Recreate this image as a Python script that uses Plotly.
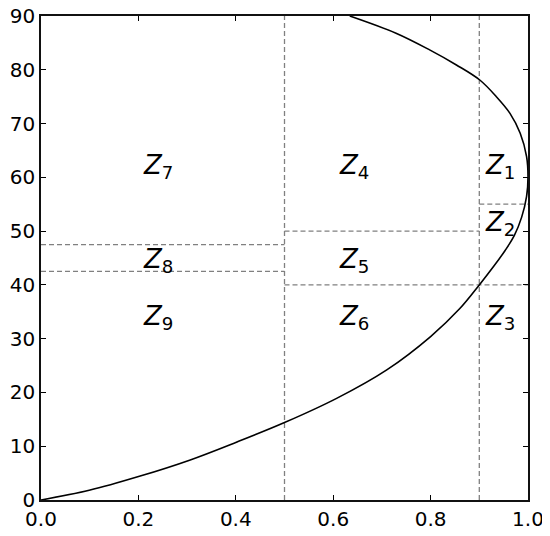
import plotly.graph_objects as go

# Curve points
curve_x = [0.0, 0.099, 0.202, 0.305, 0.40, 0.5, 0.607, 0.71, 0.8, 0.86, 0.9, 0.93, 0.953,
           0.972, 0.987, 0.997, 1.0, 0.997, 0.984, 0.963, 0.935, 0.901, 0.853, 0.798, 0.729, 0.634]
curve_y = [0.0, 1.8, 4.4, 7.4, 10.7, 14.4, 18.9, 24.2, 30.4, 35.6, 40.0, 43.5, 46.4,
           49.2, 52.6, 56.4, 60.1, 63.9, 68.2, 71.9, 75.0, 78.1, 80.9, 83.7, 86.8, 90.0]

# Dashed partition segments: (x0, x1, y0, y1)
seg_x0 = [0.5, 0.9, 0.0, 0.0, 0.5, 0.5, 0.9]
seg_x1 = [0.5, 0.9, 0.5, 0.5, 0.9, 1.0, 1.0]
seg_y0 = [0, 0, 47.5, 42.5, 50, 40, 55]
seg_y1 = [90, 90, 47.5, 42.5, 50, 40, 55]

# Region labels
label_idx = [1, 2, 3, 4, 5, 6, 7, 8, 9]
label_x = [0.907, 0.907, 0.907, 0.607, 0.607, 0.607, 0.206, 0.206, 0.206]
label_y = [62.0, 51.5, 34.0, 62.0, 44.6, 34.0, 62.0, 44.6, 34.0]

x_ticks = [0.0, 0.2, 0.4, 0.6, 0.8, 1.0]
x_tick_text = ["0.0", "0.2", "0.4", "0.6", "0.8", "1.0"]
y_ticks = [0, 10, 20, 30, 40, 50, 60, 70, 80, 90]

fig = go.Figure()

for x0, x1, y0, y1 in zip(seg_x0, seg_x1, seg_y0, seg_y1):
    fig.add_trace(go.Scatter(x=[x0, x1], y=[y0, y1], mode="lines",
                             line=dict(color="#808080", width=1.3, dash="5px,3px"),
                             hoverinfo="skip", showlegend=False))

fig.add_trace(go.Scatter(x=curve_x, y=curve_y, mode="lines",
                         line=dict(color="black", width=1.6, shape="spline", smoothing=1.0),
                         showlegend=False, cliponaxis=True))

for i, lx, ly in zip(label_idx, label_x, label_y):
    fig.add_annotation(x=lx, y=ly, text=f"<i>Z</i><sub>{i}</sub>", showarrow=False,
                       xanchor="left", yanchor="middle",
                       font=dict(family="DejaVu Sans", size=26, color="black"))

axis_common = dict(showgrid=False, zeroline=False, showline=True, linecolor="#111111",
                   linewidth=1.5, mirror="ticks", ticks="inside", ticklen=5, tickwidth=1,
                   tickcolor="black", automargin=False, ticklabeloverflow="allow",
                   tickfont=dict(family="DejaVu Sans", size=20, color="black"))

fig.update_xaxes(range=[0, 1], tickvals=x_ticks, ticktext=x_tick_text, **axis_common)
fig.update_yaxes(range=[0, 90], tickvals=y_ticks, **axis_common)

fig.update_layout(width=550, height=536, margin=dict(l=33, r=30, t=8, b=44),
                  plot_bgcolor="white", paper_bgcolor="white")

fig.write_html("out.html")
